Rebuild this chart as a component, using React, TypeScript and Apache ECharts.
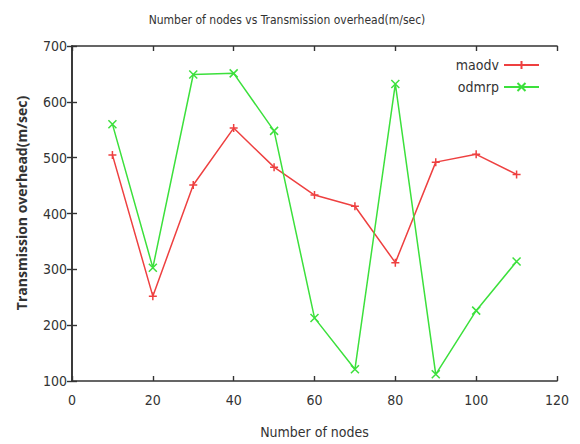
import React, { useEffect, useRef } from "react";
import * as echarts from "echarts";

const nodes = [10, 20, 30, 40, 50, 60, 70, 80, 90, 100, 110];
const maodv = [505, 252, 451, 553, 483, 433, 413, 312, 492, 506, 470];
const odmrp = [560, 303, 649, 651, 548, 213, 121, 632, 112, 226, 314];
const seriesNames = ["maodv", "odmrp"];
const titleText = "Number of nodes vs Transmission overhead(m/sec)";
const xName = "Number of nodes";
const yName = "Transmission overhead(m/sec)";

const PLUS = "path://M0,5L10,5M5,0L5,10";
const CROSS = "path://M0,0L10,10M10,0L0,10";

const FONT = "'DejaVu Sans Condensed', 'Liberation Sans Narrow', 'DejaVu Sans', sans-serif";

export default function App() {
  const ref = useRef<HTMLDivElement>(null);
  useEffect(() => {
    if (!ref.current) return;
    const chart = echarts.init(ref.current, null, { renderer: "svg" });
    const axisLine = { show: true, lineStyle: { color: "#333", width: 1.6 } };
    const tick = { show: true, inside: true, length: 5, lineStyle: { color: "#333", width: 1.4 } };
    const label = { color: "#333", fontSize: 14, fontFamily: FONT };
    chart.setOption({
      animation: false,
      backgroundColor: "#fff",
      title: {
        text: titleText,
        left: 282,
        textAlign: "center",
        top: 9,
        textStyle: { fontSize: 12, fontWeight: "normal", color: "#333", fontFamily: FONT },
      },
      legend: {
        orient: "vertical",
        right: 35,
        top: 53,
        align: "right",
        itemWidth: 35,
        itemHeight: 10,
        itemGap: 8,
        textStyle: { fontSize: 14, color: "#333", fontFamily: FONT },
        data: seriesNames,
      },
      graphic: [
        {
          type: "text",
          x: 21,
          y: 203,
          rotation: Math.PI / 2,
          style: {
            text: yName,
            align: "center",
            verticalAlign: "middle",
            fontSize: 14,
            fontWeight: "bold",
            fill: "#333",
            fontFamily: "'Open Sans', 'Noto Sans', sans-serif",
          },
        },
      ],
      grid: { left: 72, right: 23, top: 46, bottom: 60 },
      xAxis: [
        {
          type: "value",
          min: 0,
          max: 120,
          interval: 20,
          name: xName,
          nameLocation: "middle",
          nameGap: 44,
          nameTextStyle: { fontSize: 14, color: "#333", fontFamily: FONT },
          axisLine,
          axisTick: tick,
          axisLabel: { ...label, margin: 12 },
          splitLine: { show: false },
        },
        {
          type: "value",
          position: "top",
          min: 0,
          max: 120,
          interval: 20,
          axisLine,
          axisTick: tick,
          axisLabel: { show: false },
          splitLine: { show: false },
        },
      ],
      yAxis: [
        {
          type: "value",
          min: 100,
          max: 700,
          interval: 100,
          axisLine,
          axisTick: tick,
          axisLabel: { ...label, margin: 5 },
          splitLine: { show: false },
        },
        {
          type: "value",
          position: "right",
          min: 100,
          max: 700,
          interval: 100,
          axisLine,
          axisTick: tick,
          axisLabel: { show: false },
          splitLine: { show: false },
        },
      ],
      series: [
        {
          name: seriesNames[0],
          type: "line",
          data: nodes.map((n, i) => [n, maodv[i]]),
          symbol: PLUS,
          symbolSize: 8,
          showAllSymbol: true,
          lineStyle: { color: "#ee4040", width: 1.5 },
          itemStyle: { color: "#ee4040", borderColor: "#ee4040", borderWidth: 1.5 },
        },
        {
          name: seriesNames[1],
          type: "line",
          data: nodes.map((n, i) => [n, odmrp[i]]),
          symbol: CROSS,
          symbolSize: 8,
          showAllSymbol: true,
          lineStyle: { color: "#3ce03c", width: 1.5 },
          itemStyle: { color: "#3ce03c", borderColor: "#3ce03c", borderWidth: 1.5 },
        },
      ],
    });
    return () => chart.dispose();
  }, []);
  return (
    <div
      ref={ref}
      style={{ position: "fixed", left: 0, top: 0, width: 580, height: 444, background: "#fff" }}
    />
  );
}
